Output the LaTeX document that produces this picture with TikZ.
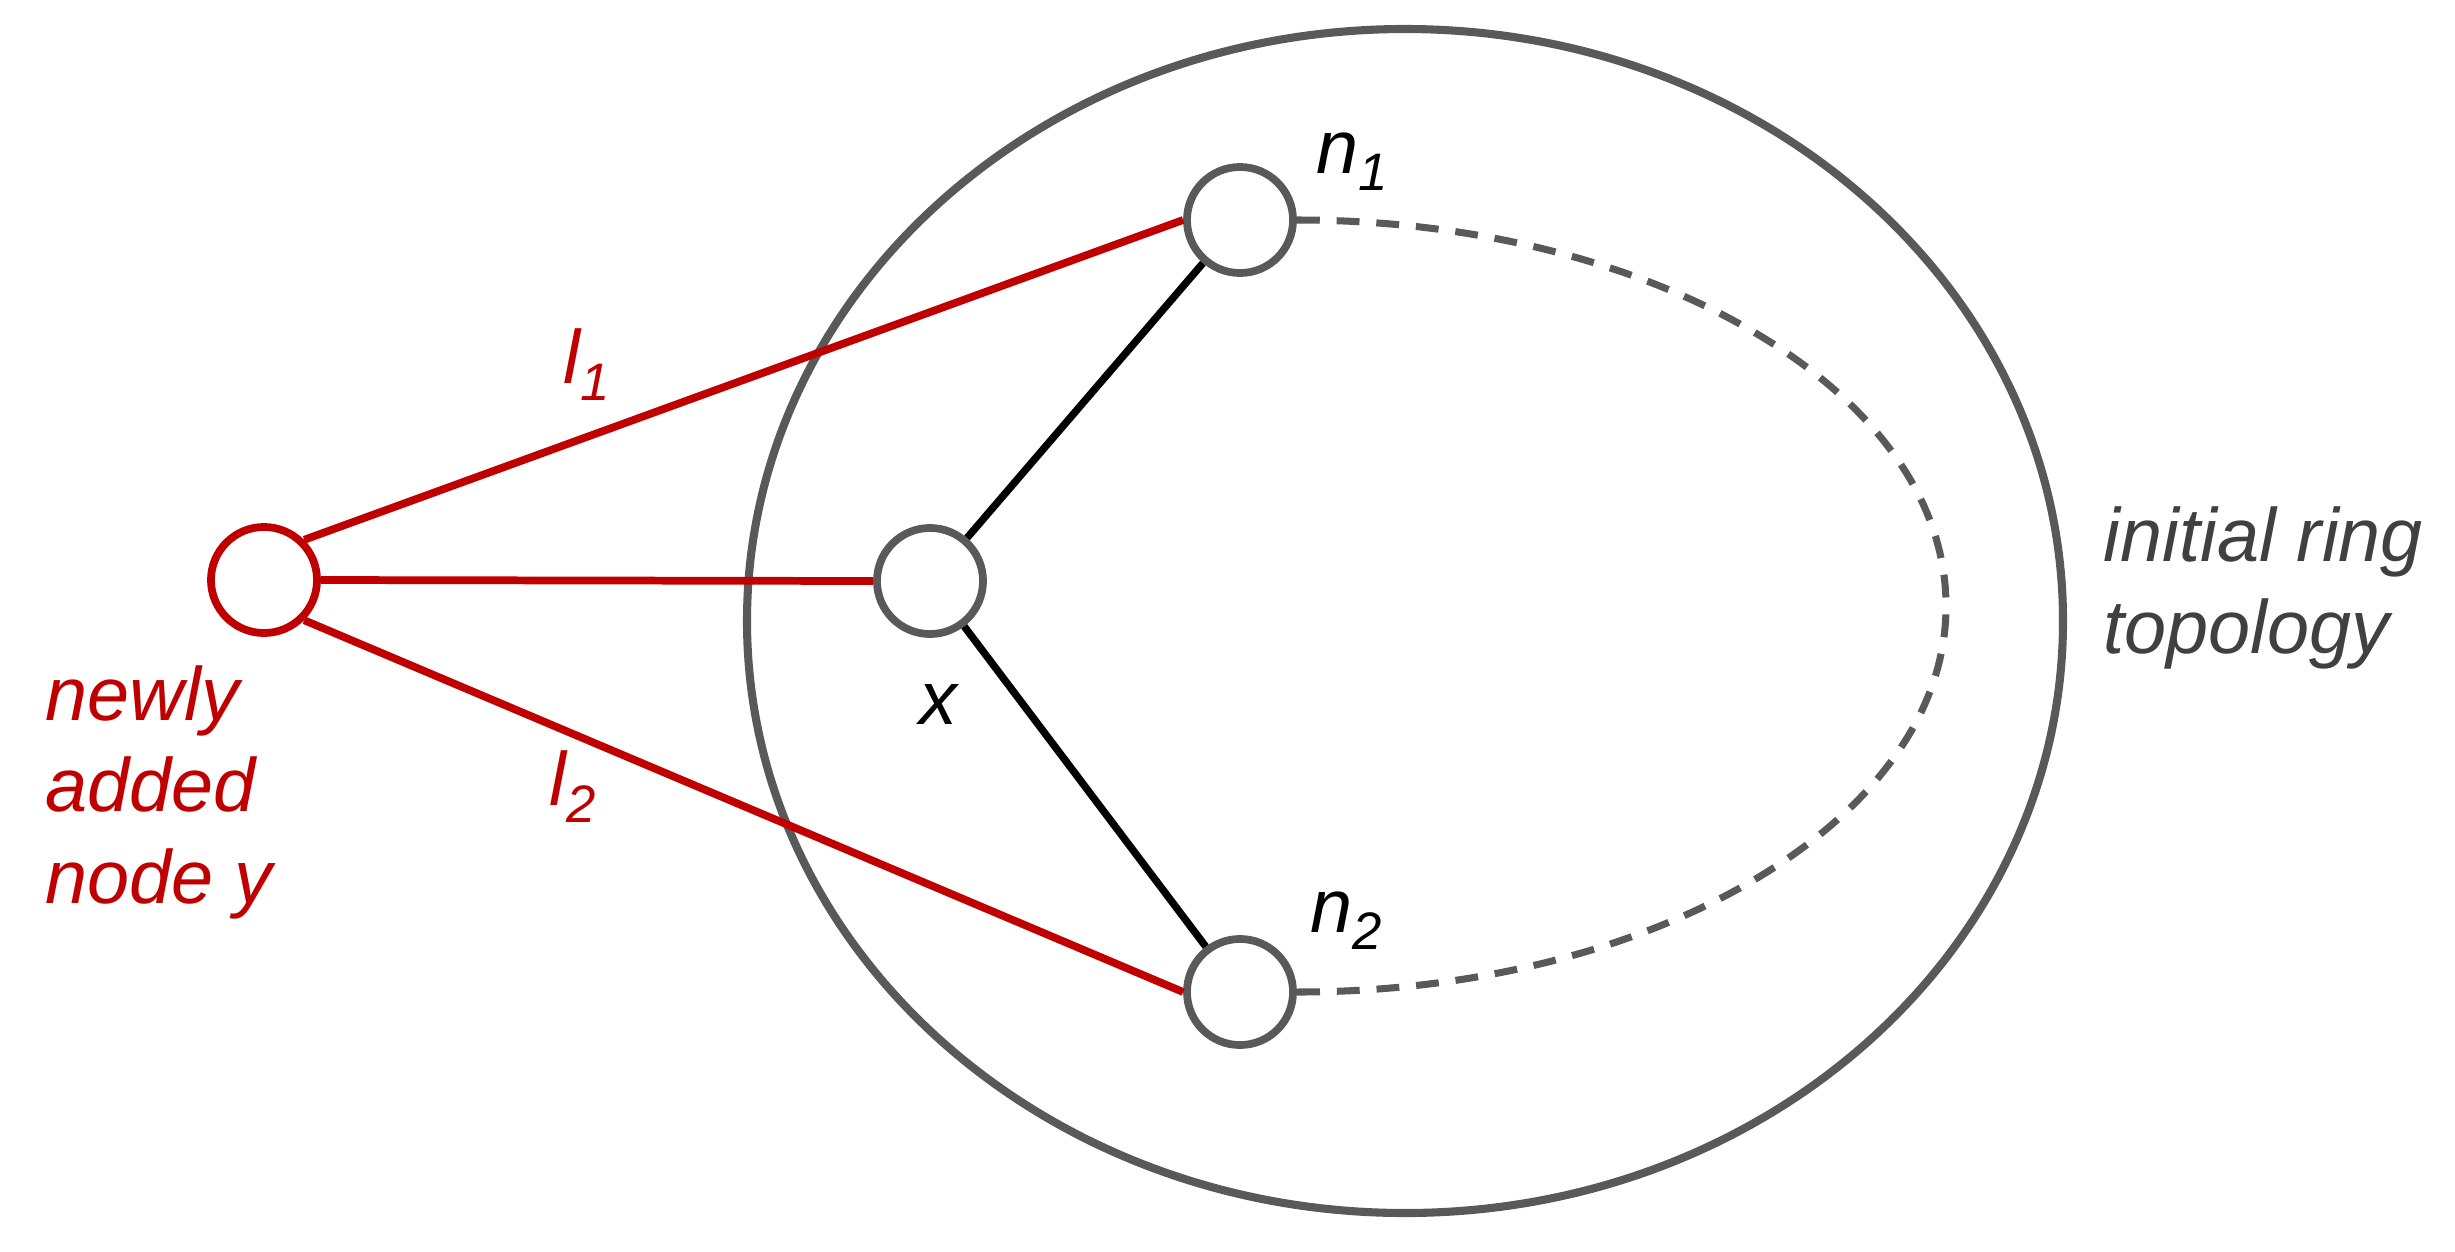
\documentclass[tikz,border=0pt]{standalone}
\usepackage{fontspec}
\setmainfont{Liberation Sans}
\definecolor{myred}{HTML}{C00000}
\definecolor{ringgray}{HTML}{595959}
\definecolor{txtgray}{HTML}{404040}
\newcommand\lsub[1]{\raisebox{-0.17cm}{\fontsize{15}{18}\selectfont #1}}
\begin{document}
\begin{tikzpicture}[x=0.01cm,y=-0.01cm,
  peer/.style={circle,draw=ringgray,line width=2.2pt,fill=white,minimum size=1.06cm,inner sep=0pt},
  newpeer/.style={peer,draw=myred},
  redlink/.style={myred,line width=2.2pt},
  blacklink/.style={black,line width=2.1pt},
  ringline/.style={ringgray,line width=2.3pt},
  lbl/.style={font=\fontsize{21.5}{25.9}\selectfont\itshape,inner sep=0pt},
  ]
\useasboundingbox (0,0) rectangle (2455,1251);
\draw[ringline] (1405,621) ellipse [x radius=658, y radius=592];
\node[newpeer] (y) at (264,580) {};
\node[peer] (x) at (930,581) {};
\node[peer] (n1) at (1240,220) {};
\node[peer] (n2) at (1240,992) {};
\coordinate (tip) at (1946,606);
\draw[redlink] (y.45) -- (n1.west);
\draw[redlink] (y.east) -- (x.west);
\draw[redlink] (y.-45) -- (n2.west);
\draw[blacklink] (x) -- (n1);
\draw[blacklink] (x) -- (n2);
\draw[ringline,line width=2pt,dash pattern=on 6.5pt off 4.8pt]
  (n1.east) .. controls (1655,220) and (1946,393) .. (tip)
            .. controls (1946,819) and (1655,992) .. (n2.east);
\node[lbl,anchor=base west] (ln1) at (1316,173) {n\lsub{1}};
\node[lbl,anchor=base west] (ln2) at (1310,932) {n\lsub{2}};
\node[lbl,anchor=base] (lx) at (938,724) {x};
\node[lbl,myred,anchor=base west] (ll1) at (563,383) {l\lsub{1}};
\node[lbl,myred,anchor=base west] (ll2) at (549,805) {l\lsub{2}};
\node[lbl,myred,anchor=base west,align=left] (ly) at (45,903) {newly\\added\\node y};
\node[lbl,txtgray,anchor=base west,align=left] (lring) at (2103,653) {initial ring\\topology};
\end{tikzpicture}
\end{document}
